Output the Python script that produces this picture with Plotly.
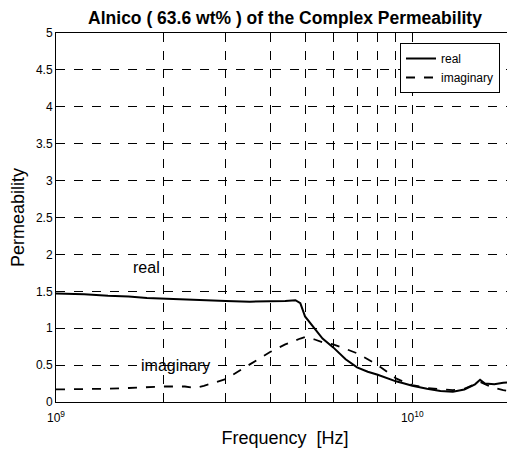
import plotly.graph_objects as go
import numpy as np

freq_hz = [1.0e9, 1.2e9, 1.4e9, 1.6e9, 1.8e9, 2.0e9, 2.3e9, 2.45e9, 2.6e9, 3.0e9, 3.5e9,
           4.0e9, 4.4e9, 4.7e9, 4.85e9, 5.0e9, 5.3e9, 5.6e9, 6.0e9, 6.5e9, 7.0e9,
           7.5e9, 8.0e9, 8.5e9, 9.0e9, 9.5e9, 1.0e10, 1.1e10, 1.2e10, 1.3e10,
           1.4e10, 1.5e10, 1.55e10, 1.6e10, 1.7e10, 1.8e10, 1.93e10]
real_mu = [1.47, 1.46, 1.44, 1.43, 1.41, 1.40, 1.39, 1.385, 1.38, 1.37, 1.36,
           1.36, 1.37, 1.38, 1.34, 1.16, 1.00, 0.86, 0.74, 0.58, 0.47,
           0.41, 0.37, 0.32, 0.28, 0.25, 0.22, 0.18, 0.15, 0.14,
           0.17, 0.24, 0.30, 0.25, 0.24, 0.26, 0.27]
imag_mu = [0.17, 0.17, 0.18, 0.19, 0.20, 0.21, 0.21, 0.19, 0.22, 0.31, 0.51,
           0.68, 0.78, 0.84, 0.86, 0.88, 0.85, 0.81, 0.78, 0.72, 0.66,
           0.58, 0.50, 0.41, 0.32, 0.27, 0.23, 0.19, 0.17, 0.16,
           0.18, 0.24, 0.27, 0.24, 0.19, 0.16, 0.14]

x_tickvals = [1e9, 2e9, 3e9, 4e9, 5e9, 6e9, 7e9, 8e9, 9e9, 1e10]
x_ticktext = ["10<sup>9</sup>", "", "", "", "", "", "", "", "", "10<sup>10</sup>"]
y_tickvals = [0, 0.5, 1, 1.5, 2, 2.5, 3, 3.5, 4, 4.5, 5]
y_ticktext = ["0", "0.5", "1", "1.5", "2", "2.5", "3", "3.5", "4", "4.5", "5"]

FONT = "Liberation Sans, Arial, sans-serif"
W, H = 515, 451
OFF = 8  # page body margin shifts the figure by this much
# plot area in window pixels: x 56..514, y 33..402
L, T = 56 - OFF, 33 - OFF
R = W - (514 - OFF)
B = H - (402 - OFF)

fig = go.Figure()
fig.add_trace(go.Scatter(x=freq_hz, y=real_mu, mode="lines", name="real",
                         line=dict(color="black", width=2)))
fig.add_trace(go.Scatter(x=freq_hz, y=imag_mu, mode="lines", name="imaginary",
                         line=dict(color="black", width=1.8, dash="dash")))

fig.add_annotation(x=np.log10(1.8e9), y=1.82, text="real", showarrow=False,
                   font=dict(family=FONT, size=16, color="black"))
fig.add_annotation(x=np.log10(2.16e9), y=0.50, text="imaginary", showarrow=False,
                   font=dict(family=FONT, size=16, color="black"))

fig.update_layout(
    width=W, height=H,
    margin=dict(l=L, r=R, t=T, b=B, autoexpand=False),
    paper_bgcolor="white", plot_bgcolor="white",
    font=dict(family=FONT, size=12, color="black"),
    title=dict(text="<b>Alnico ( 63.6 wt% ) of the Complex Permeability</b>",
               x=(L + (W - R)) / 2 / W, xanchor="center", y=1 - 10 / H, yanchor="middle",
               font=dict(family=FONT, size=17.5, color="black")),
    showlegend=True,
    legend=dict(x=(400 - 56) / (514 - 56), xanchor="left",
                y=(402 - 43) / (402 - 33), yanchor="top",
                bgcolor="white", bordercolor="black", borderwidth=1,
                font=dict(family=FONT, size=12, color="black"),
                tracegroupgap=0, itemwidth=30),
    xaxis=dict(type="log", range=[9, np.log10(1.93e10)],
               tickvals=x_tickvals, ticktext=x_ticktext,
               ticks="inside", ticklen=4, tickcolor="black",
               ticklabelstandoff=5,
               showgrid=True, gridcolor="black", griddash="dash", gridwidth=1,
               showline=True, linecolor="black", linewidth=1, mirror=True,
               zeroline=False, automargin=False,
               title=dict(text="Frequency  [Hz]", font=dict(family=FONT, size=18), standoff=6),
               tickfont=dict(family=FONT, size=12)),
    yaxis=dict(range=[0, 5], tickvals=y_tickvals, ticktext=y_ticktext,
               ticks="inside", ticklen=4, tickcolor="black",
               showgrid=True, gridcolor="black", griddash="dash", gridwidth=1,
               showline=True, linecolor="black", linewidth=1, mirror=True,
               zeroline=False, automargin=False,
               title=dict(text="Permeability", font=dict(family=FONT, size=18), standoff=6),
               tickfont=dict(family=FONT, size=12)),
)

fig.write_html("out.html")
